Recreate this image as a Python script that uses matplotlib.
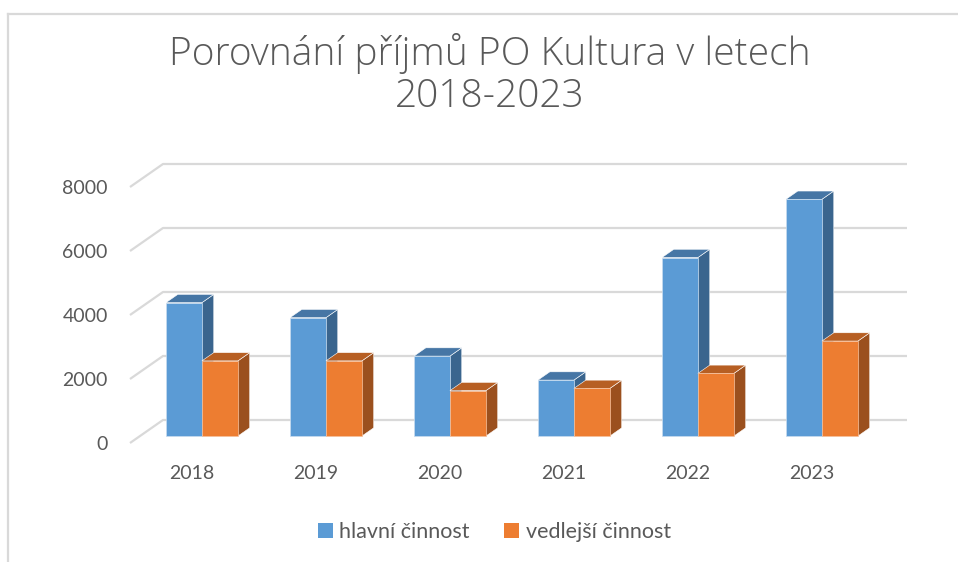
import numpy as np
import matplotlib
matplotlib.use('Agg')
import matplotlib.pyplot as plt
from matplotlib.patches import Patch, Polygon
from matplotlib.lines import Line2D

# ── Data ──────────────────────────────────────────────────────────
years = ['2018', '2019', '2020', '2021', '2022', '2023']
hlavni = [4170, 3700, 2500, 1750, 5580, 7400]
vedlejsi = [2350, 2350, 1420, 1490, 1960, 2970]
series_names = ['hlavní činnost', 'vedlejší činnost']
y_ticks = [0, 2000, 4000, 6000, 8000]

# ── Styling ───────────────────────────────────────────────────────
TEXT = '#595959'
GRID = '#d9d9d9'
FACES = [
    {'front': '#5b9bd5', 'top': '#4676a5', 'side': '#3a658e'},
    {'front': '#ed7d31', 'top': '#b75f23', 'side': '#9b501e'},
]
# fake 3-D: full depth of the box in data units
DX, DY = 0.266, 719
D0, BD = 0.30, 0.36      # bar front depth, bar depth (fractions)
W = 0.29                 # bar width

W_PX, H_PX = 958, 562
fig = plt.figure(figsize=(W_PX / 100, H_PX / 100), dpi=100)
fig.patch.set_facecolor('white')

# outer border (top + left)
fig.add_artist(Line2D([8 / W_PX, 1.0], [1 - 13.5 / H_PX] * 2, color=GRID, lw=1.6,
                      transform=fig.transFigure))
fig.add_artist(Line2D([8 / W_PX] * 2, [0, 1 - 13.5 / H_PX], color=GRID, lw=1.6,
                      transform=fig.transFigure))

left, right, top, bottom = 130, 907, 164, 443
ax = fig.add_axes([left / W_PX, 1 - bottom / H_PX,
                   (right - left) / W_PX, (bottom - top) / H_PX])
ax.set_xlim(-0.5, len(years) - 0.5 + DX)
ax.set_ylim(0, y_ticks[-1] + DY)
for s in ax.spines.values():
    s.set_visible(False)
ax.set_facecolor('none')

# back-wall gridlines with diagonal side-wall parts
x_front = -0.5
x_end = len(years) - 0.5 + DX
for v in y_ticks:
    ax.plot([x_front, x_front + DX, x_end], [v, v + DY, v + DY],
            color=GRID, lw=1.6, clip_on=False, zorder=1, solid_capstyle='butt')

# bars
z = 2
for i in range(len(years)):
    for s, vals in enumerate([hlavni, vedlejsi]):
        val = vals[i]
        x0 = i - W + s * W + D0 * DX
        y0 = D0 * DY
        y1 = y0 + val
        ddx, ddy = BD * DX, BD * DY
        side = Polygon([(x0 + W, y0), (x0 + W + ddx, y0 + ddy),
                        (x0 + W + ddx, y1 + ddy), (x0 + W, y1)],
                       closed=True, fc=FACES[s]['side'], ec='white', lw=0.4,
                       zorder=z, clip_on=False)
        topf = Polygon([(x0, y1), (x0 + W, y1), (x0 + W + ddx, y1 + ddy),
                        (x0 + ddx, y1 + ddy)],
                       closed=True, fc=FACES[s]['top'], ec='white', lw=0.4,
                       zorder=z, clip_on=False)
        ax.add_patch(side)
        ax.add_patch(topf)
        ax.bar(x0, val, width=W, bottom=y0, align='edge', color=FACES[s]['front'],
               edgecolor='#c9ddf0' if s == 0 else '#f6c09c', linewidth=0.5,
               zorder=z + 0.5, clip_on=False)
        z += 1

# axis labels
ax.set_yticks(y_ticks)
ax.set_yticklabels([str(v) for v in y_ticks])
ax.set_xticks(range(len(years)))
ax.set_xticklabels(years)
ax.tick_params(axis='both', length=0, labelsize=14, labelcolor=TEXT)
ax.tick_params(axis='y', pad=16)
ax.tick_params(axis='x', pad=16)
for lbl in ax.get_xticklabels() + ax.get_yticklabels():
    lbl.set_family('Lato')

# title
fig.text(490 / W_PX, 1 - 74.5 / H_PX,
         'Porovnání příjmů PO Kultura v letech\n2018-2023',
         ha='center', va='center', fontsize=28, color=TEXT, family='Open Sans',
         fontweight='light', linespacing=1.15)

# legend
handles = [Patch(facecolor=FACES[k]['front'], edgecolor='none') for k in range(2)]
fig.legend(handles, series_names, loc='center', ncol=2, frameon=False,
           bbox_to_anchor=(494.5 / W_PX, 1 - 532 / H_PX),
           prop={'family': 'Lato', 'size': 15.5}, labelcolor=TEXT,
           handlelength=0.7, handleheight=0.7, handletextpad=0.3,
           columnspacing=1.6)

fig.savefig('out.png', dpi=100)
plt.close('all')
